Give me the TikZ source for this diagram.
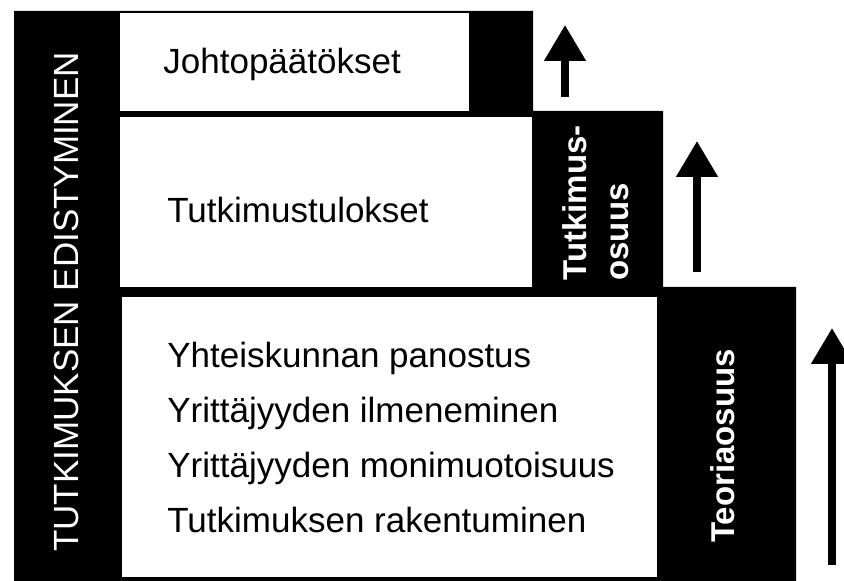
\documentclass[tikz,border=0pt]{standalone}
\usepackage{fontspec}
\setmainfont{Liberation Sans}
\usepackage{tikz}
\usetikzlibrary{positioning}
\usetikzlibrary{arrows.meta}

\begin{document}
\begin{tikzpicture}[x=0.5pt,y=-0.5pt,
	white box/.style={rectangle,fill=white,inner sep=0pt,anchor=north west},
	box text/.style={inner sep=0pt,align=left,font=\fontsize{17.5}{27.5}\selectfont},
	bar text/.style={inner sep=0pt,align=left,text=white,rotate=90,font=\fontsize{17.5}{21}\selectfont},
	part text/.style={bar text,font=\fontsize{16.5}{21}\selectfont\bfseries},
	up arrow/.style={-{Triangle[width=20pt,length=18pt]},line width=4pt}]
	
	\useasboundingbox (0,0) rectangle (844,581);
	
	% black staircase
	\fill[black] (14,11) -- (533,11) -- (533,111) -- (663,111) -- (663,287)
	-- (796,287) -- (796,581) -- (14,581) -- cycle;
	
	\node[white box, minimum width=174.5pt, minimum height=48.8pt] (concl) at (120,13) {};
	\node[white box, minimum width=206pt, minimum height=85.2pt] (results) at (120,116.7) {};
	\node[white box, minimum width=267.5pt, minimum height=140pt] (theory) at (122,297) {};
	
	\node[box text, right=21.5pt of concl.west, yshift=-1pt] (concltext) {Johtopäätökset};
	\node[box text, right=23.5pt of results.west, yshift=-4pt] (resultstext) {Tutkimustulokset};
	\node[box text, right=22.5pt of theory.west] (theorytext) {Yhteiskunnan panostus\\
		Yrittäjyyden ilmeneminen\\
		Yrittäjyyden monimuotoisuus\\
		Tutkimuksen rakentuminen};
	
	\node[bar text] (progress) at (66,302) {TUTKIMUKSEN EDISTYMINEN};
	\node[part text] (research) at (596,203) {Tutkimus-\\osuus};
	\node[part text] (theorypart) at (723,446) {Teoriaosuus};
	
	\coordinate (up1a) at (565,97);
	\coordinate (up1b) at (565,25);
	\coordinate (up2a) at (697,272);
	\coordinate (up2b) at (697,141);
	\coordinate (up3a) at (832,565);
	\coordinate (up3b) at (832,328);
	
	\draw[up arrow] (up1a) -- (up1b);
	\draw[up arrow] (up2a) -- (up2b);
	\draw[up arrow] (up3a) -- (up3b);
\end{tikzpicture}
\end{document}
